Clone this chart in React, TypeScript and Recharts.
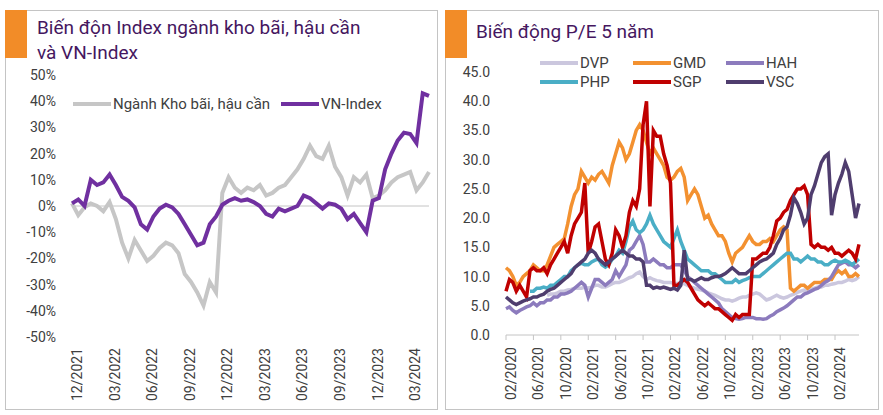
import { LineChart, Line, XAxis, YAxis, ReferenceLine } from 'recharts'

// ---- left panel: index performance since 12/2021 (half-month steps) ----
const leftTickLabels = ['12/2021', '03/2022', '06/2022', '09/2022', '12/2022', '03/2023', '06/2023', '09/2023', '12/2023', '03/2024']
const leftTicks = [0, 3, 6, 9, 12, 15, 18, 21, 24, 27]
const leftYTicks = [-50, -40, -30, -20, -10, 0, 10, 20, 30, 40, 50]

const sectorIndex = [
  1, -3.5, -0.5, 1, 0, -2,
  1.5, -5, -14, -20, -13, -17,
  -21, -19, -16, -14, -15, -18,
  -26, -29, -33, -38, -29, -33,
  5, 11, 7, 5, 7, 6,
  8, 4, 5, 7, 8, 11,
  14, 18, 23, 19, 18, 23,
  15, 11, 4, 11, 9, 12,
  3, 4, 6, 9, 11, 12,
  13, 6, 9, 13,
]

const vnIndex = [
  1, 2.5, 0, 10, 8, 9,
  12, 8, 3.5, 2, -0.5, -7,
  -9, -4, -1, 0.5, -0.5, -3,
  -7, -11, -15, -14, -7, -4,
  0.5, 2, 3, 2, 2.5, 1.5,
  0, -3, -4, -1, -2, -1,
  0, 4, 3, 1, -1, 1,
  0.5, -1, -5, -3, -6.5, -10,
  2, 3, 14, 20, 25, 28,
  27.5, 24, 43, 42,
]

// ---- right panel: P/E since 02/2020 (half-month steps) ----
const peTickLabels = ['02/2020', '06/2020', '10/2020', '02/2021', '06/2021', '10/2021', '02/2022', '06/2022', '10/2022', '02/2023', '06/2023', '10/2023', '02/2024']
const peTicks = [0, 4, 8, 12, 16, 20, 24, 28, 32, 36, 40, 44, 48]
const peYTicks = [0, 5, 10, 15, 20, 25, 30, 35, 40, 45]

const dvp = [
  null, null, null, null, null, null, null, null,
  null, null, null, null, 6.8, 7, 7, 7.2,
  7.5, 7.5, 7.7, 7.8, 8, 8, 8, 8.2,
  8, 8.2, 8.5, 8.5, 8.2, 8.2, 8.5, 8.8,
  9, 9, 9.2, 9.5, 9.8, 10, 10.5, 10.8,
  10, 9.5, 9.8, 9.5, 9.3, 9.2, 9, 9,
  9, 8.8, 8.8, 9, 8.8, 8.5, 8.2, 8,
  7.8, 7.7, 7.5, 7.2, 7, 6.8, 6.5, 6.2,
  6, 6, 5.8, 6, 6.3, 6.5, 6.5, 6.8,
  7, 7.2, 7, 6.5, 6, 6.2, 6.5, 6.8,
  6.5, 6.3, 6.5, 6.8, 7, 7.3, 7.5, 7.7,
  7.5, 7.8, 8, 8.2, 8.2, 8.5, 8.5, 8.7,
  8.8, 9, 9, 9.2, 9.5, 9.3, 9.5, 10,
]

const gmd = [
  11.5, 11, 10, 8.5, 9, 10, 10.5, 11,
  12, 11.5, 11, 11, 12, 13.5, 15, 15.5,
  16, 16.5, 19, 22, 24, 25, 28, 27,
  26, 27, 26.5, 27.5, 28, 27, 26, 29,
  31, 33, 32, 30, 31, 33, 35, 36,
  35, 33, 31, 32, 31, 30, 29, 27,
  26.5, 27, 28, 28.5, 27, 23, 24, 25,
  24, 22, 20, 20.5, 19, 18, 17, 17,
  16, 14, 12.5, 14, 14.5, 15, 16, 17,
  16, 15.5, 15.5, 16, 16, 16.5, 16, 17,
  18, 18.5, 18, 8, 7.5, 8, 8.5, 8.5,
  8, 8.5, 9, 9, 9, 9.5, 9.5, 9.5,
  10.5, 11, 10.5, 11, 10, 10, 10.5, 10,
]

const hah = [
  4.5, 4.8, 4.2, 3.8, 4.2, 4.5, 4.8, 5,
  5.5, 5, 5.5, 5.5, 6, 6, 6.5, 6.5,
  7, 7, 7.2, 7.5, 8, 8.5, 9, 8.5,
  6.5, 8, 9.5, 9.5, 9, 8.5, 9, 9.5,
  11, 10, 11, 12, 14.5, 15, 16, 17,
  15.5, 12.5, 12.5, 13, 12.5, 12, 12, 11.5,
  11.5, 12, 12, 12, 11, 10, 9.5, 9,
  8.5, 8, 7.5, 7, 6.5, 6, 5.5, 4.5,
  4, 3.5, 3, 2.8, 2.7, 2.8, 3, 3,
  3, 2.8, 2.8, 2.7, 2.8, 3.2, 3.5, 4,
  4.3, 4.6, 5, 5.5, 6, 6.5, 6.5, 7,
  7.2, 7.5, 7.8, 8, 8.5, 9, 9.3, 10,
  11, 12, 12.3, 12.5, 12, 12, 11.5, 12,
]

const php = [
  null, null, null, null, null, null, null, 7.5,
  7.5, 8, 8, 8.2, 8, 8.5, 8.5, 9,
  9.5, 10, 10, 11, 11.5, 12, 12.3, 12,
  12, 12.5, 12.8, 13, 12, 11.6, 12, 13,
  13.5, 14.5, 14, 16, 18.5, 19.5, 18, 17.5,
  18, 19, 20.5, 19, 18, 17, 16, 15.5,
  15, 16.5, 18, 16, 14.5, 13, 12.5, 12,
  11.5, 11, 11, 11, 10.5, 10.5, 10, 9.5,
  9, 9, 9, 9.5, 9, 9.3, 9.5, 9.8,
  10, 10, 10, 10.5, 11, 11.5, 12, 12.5,
  13, 13.5, 14, 14, 13, 13, 12.5, 13,
  13.5, 13, 13, 12.5, 12.5, 12, 12, 12.5,
  12.8, 12.5, 12.5, 12.8, 12.5, 12, 12.5, 13,
]

const sgp = [
  7.5, 9.5, 9, 7.5, 8.5, 7.5, 6.5, 11,
  11.5, 11, 11, 11.5, 10.5, 12, 13, 14,
  15, 16, 14, 17, 19, 20, 21, 26,
  14, 16, 18.5, 19, 16, 13, 12, 14,
  18, 17, 15, 17, 21, 23, 22, 25,
  36, 40, 22, 35, 34, 34, 31, 29,
  26, 8.5, 8.5, 9, 9.5, 9, 8, 7,
  6, 5.5, 5, 5.5, 5, 4.5, 4.5, 4,
  3.5, 3, 2.5, 3.5, 3, 3.5, 3.5, 3.5,
  13, 13, 13.5, 14, 14, 15, 17, 19.5,
  20, 21, 21.5, 23, 24, 25, 25, 25.5,
  24, 15.5, 15, 15.5, 15, 15, 14.5, 15,
  14, 14, 13.5, 14, 14.5, 14, 13, 15.5,
]

const vsc = [
  6.5, 6, 5.5, 5.2, 5.5, 5.8, 6, 6.2,
  6.5, 6.5, 6.8, 7, 7.5, 7.8, 8, 8.5,
  9, 9.5, 10, 10.5, 11.5, 12, 12.5, 13,
  14, 14.5, 14, 13, 12.5, 12, 12.5, 13,
  13.5, 14, 14.5, 14, 13.5, 13.5, 13, 13,
  12.5, 8.5, 8.5, 8, 8.2, 8, 8.2, 8,
  7.8, 8, 7.7, 8.5, 14.5, 9.5, 9.5, 9.2,
  9.5, 9.8, 9.5, 9.5, 9.8, 10, 10, 10.2,
  10.5, 11, 11.5, 11, 10.5, 10.5, 10.5, 11,
  11.5, 12, 12.5, 12.8, 13, 13.5, 14, 15.5,
  16.5, 18, 18.5, 20.5, 23.5, 22.5, 21, 19,
  20, 24, 25.5, 27.5, 29.5, 30.5, 31, 20.5,
  24, 26, 27.5, 29.5, 28, 24, 20, 22.5,
]

const peSeries = [
  { key: 'DVP', values: dvp, color: '#cbc7de' },
  { key: 'GMD', values: gmd, color: '#f39130' },
  { key: 'HAH', values: hah, color: '#8c7bbd' },
  { key: 'PHP', values: php, color: '#4aaec6' },
  { key: 'SGP', values: sgp, color: '#c00000' },
  { key: 'VSC', values: vsc, color: '#4f3d6e' },
]

const leftData = sectorIndex.map((v, i) => ({ t: i / 2, sector: v, vn: vnIndex[i] }))
const peData = gmd.map((_, i) => {
  const row: Record<string, number | null> = { t: i / 2 }
  peSeries.forEach((s) => { row[s.key] = s.values[i] })
  return row
})

const FONT = 'Roboto, "DejaVu Sans", sans-serif'
const TEXT = '#404040'
const TITLE = '#45175f'
const ORANGE = '#f28c28'

function Panel({ left, width, children }: { left: number; width: number; children?: React.ReactNode }) {
  return (
    <div style={{ position: 'absolute', left, top: 10, width, height: 400, border: '1px solid #c4c4c4', boxSizing: 'border-box' }}>
      <div style={{ position: 'absolute', left: -1, top: -1, width: 22, height: 48, background: ORANGE }} />
      {children}
    </div>
  )
}

function LegendItem({ x, y, color, label }: { x: number; y: number; color: string; label: string }) {
  return (
    <div style={{ position: 'absolute', left: x, top: y - 9, height: 18, display: 'flex', alignItems: 'center', whiteSpace: 'nowrap' }}>
      <div style={{ width: 38, height: 4, background: color, marginRight: 2 }} />
      <span style={{ fontSize: 15, color: TEXT }}>{label}</span>
    </div>
  )
}

export default function App() {
  const axisTick = { fill: TEXT, fontSize: 14 }
  const xTick = { ...axisTick, angle: -90, textAnchor: 'end', verticalAnchor: 'middle' }

  return (
    <div style={{ position: 'absolute', left: 0, top: 0, width: 883, height: 415, background: '#fff', fontFamily: FONT, overflow: 'hidden' }}>
      <Panel left={5} width={433}>
        <div style={{ position: 'absolute', left: 31, top: 4, fontSize: 19, lineHeight: '25px', color: TITLE }}>
          Biến độn Index ngành kho bãi, hậu cần<br />và VN-Index
        </div>
      </Panel>
      <Panel left={445} width={434}>
        <div style={{ position: 'absolute', left: 30, top: 8, fontSize: 19, lineHeight: '25px', color: TITLE }}>
          Biến động P/E 5 năm
        </div>
      </Panel>

      <div style={{ position: 'absolute', left: 0, top: 0 }}>
        <LineChart width={440} height={415} data={leftData} margin={{ top: 75, right: 11, bottom: 0, left: 0 }}>
          <XAxis
            dataKey="t"
            type="number"
            domain={[0, 28.5]}
            ticks={leftTicks}
            interval={0}
            tickFormatter={(v: number) => leftTickLabels[Math.round(v / 3)]}
            axisLine={false}
            tickLine={false}
            tickSize={0}
            tickMargin={11}
            height={78}
            tick={xTick}
          />
          <YAxis
            type="number"
            domain={[-50, 50]}
            ticks={leftYTicks}
            interval={0}
            tickFormatter={(v: number) => `${v}%`}
            axisLine={false}
            tickLine={false}
            tickSize={0}
            tickMargin={16}
            width={72}
            tick={axisTick}
          />
          <ReferenceLine y={0} stroke="#c4c4c4" strokeWidth={1} />
          <Line dataKey="sector" type="linear" stroke="#c6c6c6" strokeWidth={4} dot={false} isAnimationActive={false} />
          <Line dataKey="vn" type="linear" stroke="#7030a0" strokeWidth={4} dot={false} isAnimationActive={false} />
        </LineChart>
      </div>

      <div style={{ position: 'absolute', left: 440, top: 0 }}>
        <LineChart width={443} height={415} data={peData} margin={{ top: 72, right: 24, bottom: 0, left: 0 }}>
          <XAxis
            dataKey="t"
            type="number"
            domain={[0, 51.5]}
            ticks={peTicks}
            interval={0}
            tickFormatter={(v: number) => peTickLabels[Math.round(v / 4)]}
            axisLine={{ stroke: '#c4c4c4' }}
            tickLine={{ stroke: '#c4c4c4' }}
            tickSize={5}
            tickMargin={7}
            height={80}
            tick={xTick}
          />
          <YAxis
            type="number"
            domain={[0, 45]}
            ticks={peYTicks}
            interval={0}
            tickFormatter={(v: number) => v.toFixed(1)}
            axisLine={false}
            tickLine={false}
            tickSize={0}
            tickMargin={16}
            width={66}
            tick={axisTick}
          />
          {peSeries.map((s) => (
            <Line key={s.key} dataKey={s.key} type="linear" stroke={s.color} strokeWidth={3.5} dot={false} isAnimationActive={false} />
          ))}
        </LineChart>
      </div>

      {/* legends */}
      <LegendItem x={73} y={104} color="#c6c6c6" label="Ngành Kho bãi, hậu cần" />
      <LegendItem x={281} y={104} color="#7030a0" label="VN-Index" />
      {peSeries.map((s, i) => (
        <LegendItem key={s.key} x={540 + (i % 3) * 93} y={i < 3 ? 63 : 82} color={s.color} label={s.key} />
      ))}
    </div>
  )
}
